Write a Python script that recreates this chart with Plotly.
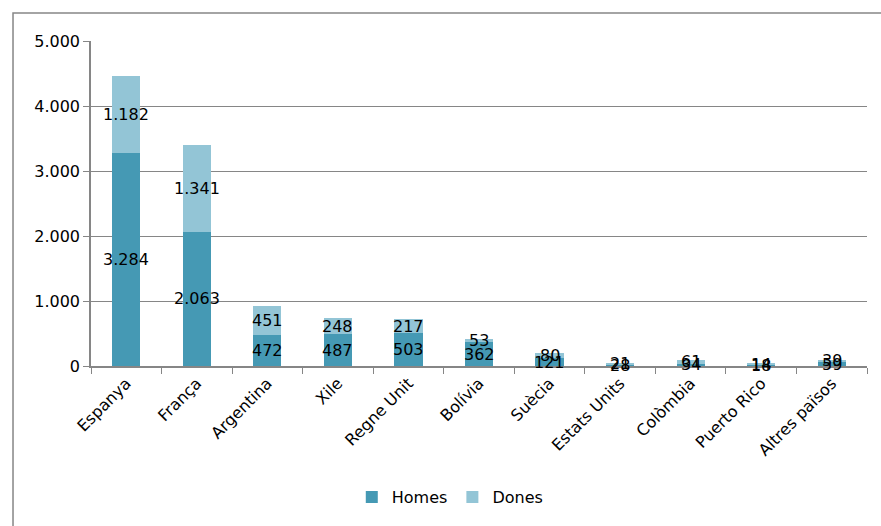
import plotly.graph_objects as go

categories = ["Espanya", "França", "Argentina", "Xile", "Regne Unit", "Bolívia",
              "Suècia", "Estats Units", "Colòmbia", "Puerto Rico", "Altres països"]
homes = [3284, 2063, 472, 487, 503, 362, 121, 28, 34, 18, 59]
dones = [1182, 1341, 451, 248, 217, 53, 80, 21, 61, 14, 39]
y_ticks = [0, 1000, 2000, 3000, 4000, 5000]

C_H = "#4599b4"
C_D = "#93c5d6"
GRID = "#868686"
FONT = "DejaVu Sans"
FS = 16

fig = go.Figure()
fig.add_trace(go.Bar(x=categories, y=homes, name="Homes", marker=dict(color=C_H, line=dict(width=0))))
fig.add_trace(go.Bar(x=categories, y=dones, name="Dones", marker=dict(color=C_D, line=dict(width=0))))

def fmt(v):
    return f"{v:,}".replace(",", ".")

annotations = []
for c, h, d in zip(categories, homes, dones):
    annotations.append(dict(x=c, y=h / 2, text=fmt(h), showarrow=False, xref="x", yref="y",
                            font=dict(family=FONT, size=FS, color="#000")))
    annotations.append(dict(x=c, y=h + d / 2, text=fmt(d), showarrow=False, xref="x", yref="y",
                            font=dict(family=FONT, size=FS, color="#000")))

fig.update_layout(
    barmode="stack",
    bargap=0.6,
    width=881, height=526,
    margin=dict(l=91, r=14, t=41, b=160),
    paper_bgcolor="white", plot_bgcolor="white",
    separators=",.",
    font=dict(family=FONT, size=FS, color="#000"),
    annotations=annotations,
    legend=dict(orientation="h", x=0.463, xanchor="center", y=-0.403, yanchor="middle",
                font=dict(family=FONT, size=FS), itemwidth=30, traceorder="normal"),
    showlegend=True,
    shapes=[dict(type="rect", xref="paper", yref="paper", x0=-0.1005, y0=-2, x1=2, y1=1.0862,
                 line=dict(color=GRID, width=1.5), layer="below")],
)
fig.update_yaxes(range=[0, 5000], tickvals=y_ticks, tickformat=",d", showgrid=True, gridcolor=GRID,
                 gridwidth=1, showline=True, linecolor=GRID, linewidth=1.5, ticks="outside",
                 ticklen=6, tickcolor=GRID, zeroline=False, tickfont=dict(size=FS))
fig.update_xaxes(showgrid=False, showline=True, linecolor=GRID, linewidth=1.5, ticks="outside",
                 tickson="boundaries", ticklen=6, tickcolor=GRID, tickangle=-45,
                 tickfont=dict(size=FS))

fig.write_html("out.html")
